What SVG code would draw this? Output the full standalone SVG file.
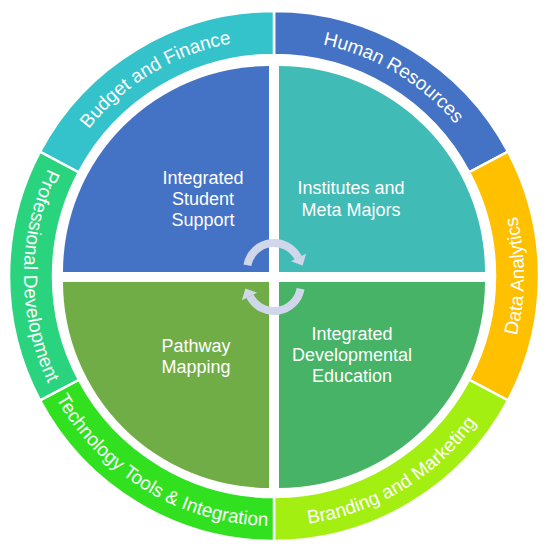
<svg xmlns="http://www.w3.org/2000/svg" xmlns:xlink="http://www.w3.org/1999/xlink" width="549" height="549" viewBox="0 0 549 549">
<style>
.seg{stroke:#ffffff;stroke-width:2.5;stroke-linejoin:miter}
.ring{font-family:"Liberation Sans",Arial,sans-serif;font-size:19px;fill:#ffffff}
.quad{font-family:"Liberation Sans",Arial,sans-serif;font-size:18px;fill:#ffffff;text-anchor:middle}
.arc{fill:none;stroke:#D0D7EB;stroke-width:8}
.head{fill:#D0D7EB}
</style>
<defs>
<path id="p-budget" d="M65.18,164.97 A236.5,236.5 0 0 1 274,39.5"/>
<path id="p-hr" d="M274,39.5 A236.5,236.5 0 0 1 482.82,164.97"/>
<path id="p-data" d="M494.74,393.37 A250,250 0 0 0 494.74,158.63"/>
<path id="p-brand" d="M274,526 A250,250 0 0 0 494.74,393.37"/>
<path id="p-tech" d="M53.26,393.37 A250,250 0 0 0 274,526"/>
<path id="p-prof" d="M53.26,158.63 A250,250 0 0 0 53.26,393.37"/>
<g id="cyc">
<path class="arc" d="M247.41,265.31 A27,27 0 0 1 298.06,257.74"/>
<polygon class="head" points="290.93,261.37 306.08,253.66 302.6,265.5"/>
</g>
</defs>
<rect width="549" height="549" fill="#ffffff"/>

<g id="ring-human-resources">
<path class="seg" fill="#4472C4" d="M274,11 A265,265 0 0 1 507.98,151.59 L469.13,172.25 A221,221 0 0 0 274,55 Z"/>
<text class="ring"><textPath xlink:href="#p-hr" href="#p-hr" startOffset="50%" text-anchor="middle">Human Resources</textPath></text>
</g>
<g id="ring-data-analytics">
<path class="seg" fill="#FFC000" d="M507.98,151.59 A265,265 0 0 1 507.98,400.41 L469.13,379.75 A221,221 0 0 0 469.13,172.25 Z"/>
<text class="ring"><textPath xlink:href="#p-data" href="#p-data" startOffset="50%" text-anchor="middle">Data Analytics</textPath></text>
</g>
<g id="ring-branding-marketing">
<path class="seg" fill="#A3EF12" d="M507.98,400.41 A265,265 0 0 1 274,541 L274,497 A221,221 0 0 0 469.13,379.75 Z"/>
<text class="ring"><textPath xlink:href="#p-brand" href="#p-brand" startOffset="50%" text-anchor="middle">Branding and Marketing</textPath></text>
</g>
<g id="ring-technology-tools">
<path class="seg" fill="#31E120" d="M274,541 A265,265 0 0 1 40.02,400.41 L78.87,379.75 A221,221 0 0 0 274,497 Z"/>
<text class="ring"><textPath xlink:href="#p-tech" href="#p-tech" startOffset="50%" text-anchor="middle">Technology Tools &amp; Integration</textPath></text>
</g>
<g id="ring-professional-development">
<path class="seg" fill="#2AD47F" d="M40.02,400.41 A265,265 0 0 1 40.02,151.59 L78.87,172.25 A221,221 0 0 0 78.87,379.75 Z"/>
<text class="ring"><textPath xlink:href="#p-prof" href="#p-prof" startOffset="50%" text-anchor="middle">Professional Development</textPath></text>
</g>
<g id="ring-budget-finance">
<path class="seg" fill="#35C3CB" d="M40.02,151.59 A265,265 0 0 1 274,11 L274,55 A221,221 0 0 0 78.87,172.25 Z"/>
<text class="ring"><textPath xlink:href="#p-budget" href="#p-budget" startOffset="50%" text-anchor="middle">Budget and Finance</textPath></text>
</g>

<g id="quad-integrated-student-support">
<path fill="#4472C4" d="M269,272 L269,66 A206,206 0 0 0 63,272 Z"/>
<text class="quad" x="203" y="184">Integrated</text>
<text class="quad" x="203" y="205">Student</text>
<text class="quad" x="203" y="226">Support</text>
</g>
<g id="quad-institutes-meta-majors">
<path fill="#41BBB5" d="M279,272 L279,66 A206,206 0 0 1 485,272 Z"/>
<text class="quad" x="351" y="194">Institutes and</text>
<text class="quad" x="351" y="215.5">Meta Majors</text>
</g>
<g id="quad-pathway-mapping">
<path fill="#70AD47" d="M269,282 L63,282 A206,206 0 0 0 269,488 Z"/>
<text class="quad" x="196" y="352">Pathway</text>
<text class="quad" x="196" y="373">Mapping</text>
</g>
<g id="quad-integrated-developmental-education">
<path fill="#46B366" d="M279,282 L485,282 A206,206 0 0 1 279,488 Z"/>
<text class="quad" x="352" y="340">Integrated</text>
<text class="quad" x="352" y="361">Developmental</text>
<text class="quad" x="352" y="382">Education</text>
</g>

<g id="connectors">
<use xlink:href="#cyc" href="#cyc"/>
<use xlink:href="#cyc" href="#cyc" transform="rotate(180 274 277)"/>
</g>
</svg>
